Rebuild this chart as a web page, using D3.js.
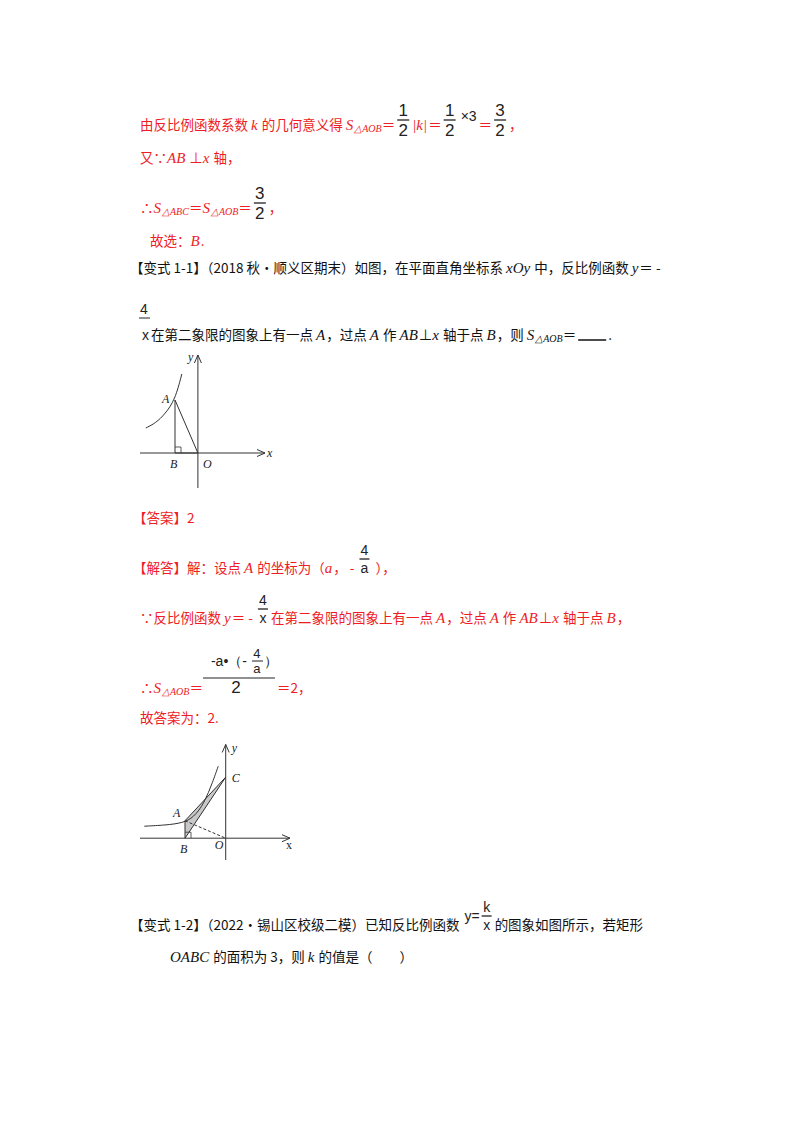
<!DOCTYPE html>
<html lang="en">
<head>
<meta charset="UTF-8">
<script src="https://cdn.jsdelivr.net/npm/d3@7"></script>
<style>body{margin:0;background:#fff} text{white-space:pre}</style>
</head>
<body>
<svg id="page" width="800" height="1132"></svg>
<script>
// text lines: [x, baseline, color, segments]
// segment: string = CJK text, {i:"..."} italic latin, {sub:"..."} subscript, {f:[num,den]} fraction, {n:"..."} plain latin
const RED = "#ee1c25", BLK = "#111";
const lines = [
  [140, 130, RED, ["由反比例函数系数 ", {i:"k"}, " 的几何意义得 ", {i:"S"}, {sub:"△AOB"}, "＝", {f:["1","2"]}, {i:"|k|"}, "＝", {f:["1","2"]}, {n:"×3", up:true}, "＝", {f:["3","2"]}, "，"]],
  [140, 163, RED, ["又∵", {i:"AB"}, " ⊥", {i:"x"}, " 轴，"]],
  [140, 213, RED, ["∴", {i:"S"}, {sub:"△ABC"}, "＝", {i:"S"}, {sub:"△AOB"}, "＝", {f:["3","2"]}, "，"]],
  [150, 246, RED, ["故选：", {i:"B"}, "."]],
  [130, 273, BLK, ["【变式 1-1】（2018 秋•顺义区期末）如图，在平面直角坐标系 ", {i:"xOy"}, " 中，反比例函数 ", {i:"y"}, "＝ -"]],
  [140, 340, BLK, [{n:"x"}, "在第二象限的图象上有一点 ", {i:"A"}, "，过点 ", {i:"A"}, " 作 ", {i:"AB"}, "⊥", {i:"x"}, " 轴于点 ", {i:"B"}, "，则 ", {i:"S"}, {sub:"△AOB"}, "＝", {blank:30}, "."]],
  [133, 523, RED, ["【答案】2"]],
  [133, 573, RED, ["【解答】解：设点 ", {i:"A"}, " 的坐标为（", {i:"a"}, "， - ", {f:["4","a"], sm:true}, " ），"]],
  [140, 623, RED, ["∵反比例函数 ", {i:"y"}, "＝ - ", {f:["4","x"], sm:true}, "在第二象限的图象上有一点 ", {i:"A"}, "，过点 ", {i:"A"}, " 作 ", {i:"AB"}, "⊥", {i:"x"}, " 轴于点 ", {i:"B"}, "，"]],
  [140, 693, RED, ["∴", {i:"S"}, {sub:"△AOB"}, "＝", {big:true}, "＝2，"]],
  [140, 723, RED, ["故答案为：2."]],
  [130, 930, BLK, ["【变式 1-2】（2022•锡山区校级二模）已知反比例函数 ", {n:"y=", up:true, tight:true}, {f:["k","x"], sm:true}, "的图象如图所示，若矩形"]],
  [170, 962, BLK, [{i:"OABC"}, " 的面积为 3，则 ", {i:"k"}, " 的值是（　　）"]]
];

const svg = d3.select("#page");
const CJK = "'Noto Sans CJK SC', sans-serif", SER = "'Liberation Serif', serif", SANS = "'Liberation Sans', sans-serif";

function put(x, y, s, opts) {
  const t = svg.append("text").attr("x", x).attr("y", y).text(s)
    .attr("font-family", opts.ff).attr("font-size", opts.fs).attr("fill", opts.c)
    .attr("font-style", opts.it ? "italic" : "normal");
  return t.node().getComputedTextLength();
}

lines.forEach(([x0, y, c, segs]) => {
  let x = x0;
  segs.forEach(s => {
    if (typeof s === "string") x += put(x, y, s, {ff:CJK, fs:13.5, c});
    else if (s.i) x += put(x, y, s.i, {ff:SER, fs:15, c, it:true}) + 1;
    else if (s.sub) x += put(x, y + 2, s.sub, {ff:SER, fs:10, c, it:true});
    else if (s.n) x += put(x + 2, s.up ? y - 9 : y, s.n, {ff:SANS, fs:14, c:"#222"}) + (s.tight ? 2 : 4);
    else if (s.blank) { svg.append("line").attr("x1", x + 2).attr("x2", x + s.blank).attr("y1", y).attr("y2", y).attr("stroke", BLK).attr("stroke-width", 1.5); x += s.blank + 2; }
    else if (s.f) {
      const fs = s.sm ? 14 : 17, w = s.sm ? 10 : 12;
      const bar = s.sm ? y - 14 : y - 10;
      const x1 = x + 2;
      svg.append("text").attr("x", x1 + w / 2).attr("y", bar - 4).attr("text-anchor", "middle").attr("font-family", SANS).attr("font-size", fs).attr("fill", "#222").text(s.f[0]);
      svg.append("line").attr("x1", x1).attr("x2", x1 + w).attr("y1", bar).attr("y2", bar).attr("stroke", "#222").attr("stroke-width", 1.3);
      svg.append("text").attr("x", x1 + w / 2).attr("y", bar + (s.sm ? 14 : 16)).attr("text-anchor", "middle").attr("font-family", SANS).attr("font-size", fs).attr("fill", "#222").text(s.f[1]);
      x += w + 5;
    } else if (s.big) {
      const g = "#222", w = 72;
      put(x + 8, y - 27, "-a•（-", {ff:SANS, fs:14, c:g});
      svg.append("text").attr("x", x + 54).attr("y", y - 35).attr("text-anchor", "middle").attr("font-family", SANS).attr("font-size", 13).attr("fill", g).text("4");
      svg.append("line").attr("x1", x + 49).attr("x2", x + 60).attr("y1", y - 32).attr("y2", y - 32).attr("stroke", g);
      svg.append("text").attr("x", x + 54).attr("y", y - 20).attr("text-anchor", "middle").attr("font-family", SANS).attr("font-size", 13).attr("fill", g).text("a");
      put(x + 61, y - 27, "）", {ff:SANS, fs:14, c:g});
      svg.append("line").attr("x1", x).attr("x2", x + w).attr("y1", y - 15).attr("y2", y - 15).attr("stroke", g).attr("stroke-width", 1.2);
      svg.append("text").attr("x", x + w / 2 - 3).attr("y", y).attr("text-anchor", "middle").attr("font-family", SANS).attr("font-size", 17).attr("fill", g).text("2");
      x += w + 2;
    }
  });
});

// underlined "4" of -4/x split over two lines
svg.append("text").attr("x", 144).attr("y", 314).attr("text-anchor", "middle").attr("font-family", SANS).attr("font-size", 14).attr("fill", "#222").text("4");
svg.append("line").attr("x1", 139).attr("x2", 150).attr("y1", 318).attr("y2", 318).attr("stroke", "#222");

// ---- diagram 1: y = -4/x, A on curve, AB ⊥ x-axis
const d1X = d3.scaleLinear().domain([-2.2, 2.55]).range([140, 265]);
const d1Y = d3.scaleLinear().domain([0, 1]).range([453, 433]);
const curve1 = [[-1.98, 1.25], [-1.6, 1.5], [-1.25, 1.95], [-0.87, 2.65], [-0.61, 3.95]];
const A1 = [-0.87, 2.65], O1 = [0, 0];
drawAxes(d1X, d1Y, [-2.2, 2.55], [-1.75, 4.9]);
svg.append("path").attr("d", d3.line().curve(d3.curveBasis).x(d => d1X(d[0])).y(d => d1Y(d[1]))(curve1)).attr("fill", "none").attr("stroke", "#333").attr("stroke-width", 1);
poly([[A1[0], A1[1]], [A1[0], 0], O1, A1], d1X, d1Y, "none");
rightAngle(d1X(A1[0]), d1Y(0));
label(d1X(A1[0]) - 13, d1Y(A1[1]) + 3, "A");
label(d1X(A1[0]) - 5, d1Y(0) + 15, "B");
label(d1X(0) + 5, d1Y(0) + 15, "O");
label(d1X(0) - 10, d1Y(4.9) + 6, "y");
label(d1X(2.55) + 2, d1Y(0) + 4, "x");

// ---- diagram 2
const d2X = d3.scaleLinear().domain([-4, 3]).range([140, 290]);
const d2Y = d3.scaleLinear().domain([-1, 4]).range([860, 751]);
const curve2 = [[-3.8, 0.55], [-2.8, 0.6], [-2.0, 0.7], [-1.5, 0.95], [-1.0, 1.6], [-0.6, 2.6], [-0.35, 3.3]];
const A2 = [-1.9, 0.8], B2 = [-1.9, 0], C2 = [0, 2.8];
drawAxes(d2X, d2Y, [-4, 3], [-1, 4.3]);
poly([B2, A2, C2, B2], d2X, d2Y, "#c8c8c8");
svg.append("path").attr("d", d3.line().curve(d3.curveBasis).x(d => d2X(d[0])).y(d => d2Y(d[1]))(curve2)).attr("fill", "none").attr("stroke", "#333").attr("stroke-width", 1);
svg.append("line").attr("x1", d2X(A2[0])).attr("y1", d2Y(A2[1])).attr("x2", d2X(0)).attr("y2", d2Y(0)).attr("stroke", "#333").attr("stroke-dasharray", "3,2");
rightAngle(d2X(B2[0]), d2Y(0));
label(d2X(A2[0]) - 12, d2Y(A2[1]) - 4, "A");
label(d2X(B2[0]) - 5, d2Y(0) + 15, "B");
label(d2X(0) - 11, d2Y(0) + 11, "O");
label(d2X(0) + 6, d2Y(C2[1]) + 5, "C");
label(d2X(0) + 6, d2Y(4.3) + 8, "y");
label(d2X(3) - 4, d2Y(0) + 11, "x", true);

function drawAxes(X, Y, xr, yr) {
  const k = "#333";
  svg.append("line").attr("x1", X(xr[0])).attr("x2", X(xr[1])).attr("y1", Y(0)).attr("y2", Y(0)).attr("stroke", k);
  svg.append("line").attr("x1", X(0)).attr("x2", X(0)).attr("y1", Y(yr[0])).attr("y2", Y(yr[1])).attr("stroke", k);
  const ax = X(xr[1]), ay = Y(yr[1]);
  svg.append("path").attr("d", `M${ax - 8},${Y(0) - 3.5}L${ax},${Y(0)}L${ax - 8},${Y(0) + 3.5}`).attr("fill", "none").attr("stroke", k);
  svg.append("path").attr("d", `M${X(0) - 3.5},${ay + 8}L${X(0)},${ay}L${X(0) + 3.5},${ay + 8}`).attr("fill", "none").attr("stroke", k);
}
function poly(pts, X, Y, fill) {
  svg.append("path").attr("d", d3.line().x(d => X(d[0])).y(d => Y(d[1]))(pts)).attr("fill", fill).attr("stroke", "#333").attr("stroke-width", 1);
}
function rightAngle(x, y) {
  svg.append("path").attr("d", `M${x},${y - 6}h6v6`).attr("fill", "none").attr("stroke", "#333").attr("stroke-width", 0.8);
}
function label(x, y, s, upright) {
  svg.append("text").attr("x", x).attr("y", y).text(s).attr("font-family", SER).attr("font-size", 12)
    .attr("font-style", upright ? "normal" : "italic").attr("fill", "#222");
}
</script>
</body>
</html>
